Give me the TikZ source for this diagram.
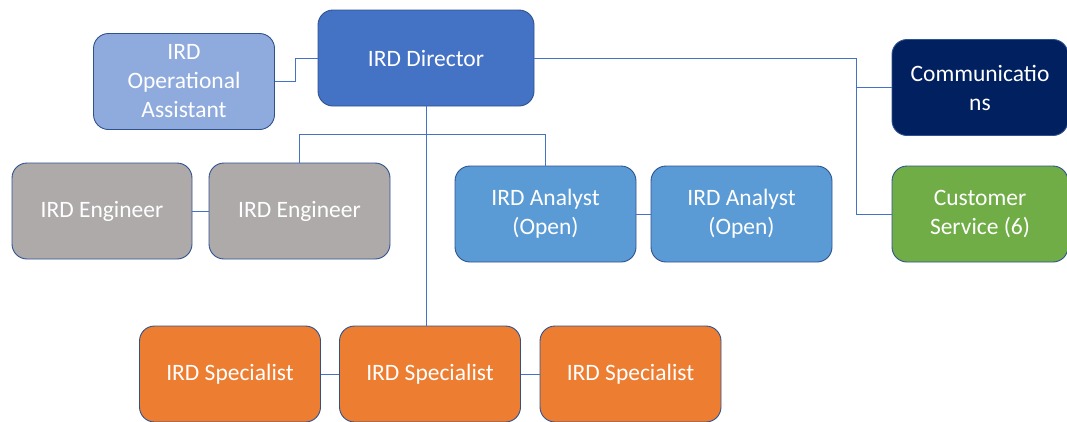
\documentclass[tikz,border=0pt]{standalone}
\usepackage{fontspec}
\setmainfont{Carlito}
\usepackage{tikz}

\definecolor{dirblue}{HTML}{4472C4}
\definecolor{asstblue}{HTML}{8FAADC}
\definecolor{commnavy}{HTML}{002060}
\definecolor{custgreen}{HTML}{70AD47}
\definecolor{enggray}{HTML}{AEAAAA}
\definecolor{anablue}{HTML}{5B9BD5}
\definecolor{specorange}{HTML}{ED7D31}
\definecolor{edgeblue}{HTML}{2F528F}

\begin{document}
\begin{tikzpicture}[x=1pt,y=-1pt,
  box/.style={draw=edgeblue,line width=0.9pt,rounded corners=15pt,
    minimum width=181pt,minimum height=96pt,inner sep=0pt,align=center,
    text=white,font=\fontsize{23.5}{29}\selectfont},
  link/.style={draw=dirblue,line width=0.9pt}]
\useasboundingbox (0,0) rectangle (1067,421);
\node[box,fill=dirblue,minimum width=216pt] (dir) at (426,58) {IRD Director};
\node[box,fill=asstblue] (asst) at (184,81.5) {IRD\\Operational\\Assistant};
\node[box,fill=commnavy,minimum width=176pt] (comm) at (980,87.5) {Communicatio\\ns};
\node[box,fill=custgreen,minimum width=176pt] (cust) at (980,214) {Customer\\Service (6)};
\node[box,fill=enggray,minimum width=180pt] (eng1) at (102,211) {IRD Engineer};
\node[box,fill=enggray] (eng2) at (299.5,211) {IRD Engineer};
\node[box,fill=anablue] (ana1) at (545.5,214) {IRD Analyst\\(Open)};
\node[box,fill=anablue] (ana2) at (741.5,214) {IRD Analyst\\(Open)};
\node[box,fill=specorange] (spec1) at (230,374) {IRD Specialist};
\node[box,fill=specorange] (spec2) at (430,374) {IRD Specialist};
\node[box,fill=specorange] (spec3) at (630.5,374) {IRD Specialist};
\coordinate (rbus) at (856,0);
\coordinate (mbus) at (0,134);
\draw[link] (dir.west) -- ++(-22,0) |- (asst.east);
\draw[link] (dir.east) -- (dir.east -| rbus) |- (comm.west);
\draw[link] (dir.east -| rbus) |- (cust.west);
\draw[link] (dir.south) -- (dir.south |- spec2.north);
\draw[link] (eng2.north) -- (eng2.north |- mbus) -- (ana1.north |- mbus) -- (ana1.north);
\draw[link] (eng1.east) -- (eng2.west);
\draw[link] (ana1.east) -- (ana2.west);
\draw[link] (spec1.east) -- (spec2.west);
\draw[link] (spec2.east) -- (spec3.west);
\end{tikzpicture}
\end{document}
